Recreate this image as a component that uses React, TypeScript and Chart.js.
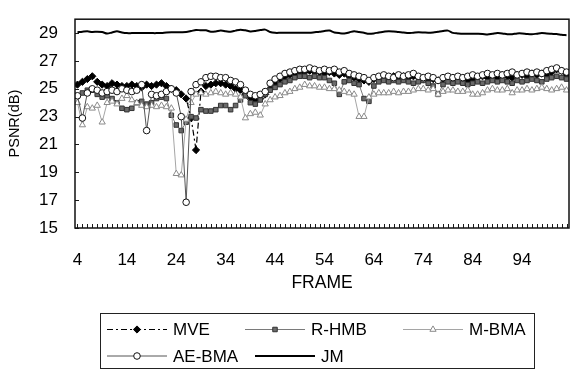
import { useEffect, useRef } from 'react';
import { Chart, registerables } from 'chart.js';
import { drawPoint } from 'chart.js/helpers';

Chart.register(...registerables);

const FRAMES = [
  4, 5, 6, 7, 8, 9, 10, 11, 12, 13, 14, 15, 16, 17, 18, 19, 20, 21, 22, 23,
  24, 25, 26, 27, 28, 29, 30, 31, 32, 33, 34, 35, 36, 37, 38, 39, 40, 41, 42, 43,
  44, 45, 46, 47, 48, 49, 50, 51, 52, 53, 54, 55, 56, 57, 58, 59, 60, 61, 62, 63,
  64, 65, 66, 67, 68, 69, 70, 71, 72, 73, 74, 75, 76, 77, 78, 79, 80, 81, 82, 83,
  84, 85, 86, 87, 88, 89, 90, 91, 92, 93, 94, 95, 96, 97, 98, 99, 100, 101, 102, 103,
];
const X_TICKS = [4, 14, 24, 34, 44, 54, 64, 74, 84, 94];
const Y_TICKS = [15, 17, 19, 21, 23, 25, 27, 29];

const MVE = [
  25.3, 25.5, 25.7, 25.9, 25.5, 25.3, 25.2, 25.4, 25.3, 25.2,
  25.2, 25.3, 25.2, 25.1, 25.3, 25.2, 25.3, 25.4, 25.2, 25.0,
  24.9, 24.6, 24.3, 22.9, 20.6, 24.8, 25.2, 25.3, 25.4, 25.4,
  25.3, 25.2, 25.0, 24.9, 24.6, 24.3, 24.2, 24.3, 24.6, 25.0,
  25.4, 25.7, 25.9, 26.0, 26.1, 26.2, 26.2, 26.3, 26.2, 26.2,
  26.1, 26.2, 26.1, 26.0, 26.1, 25.9, 25.8, 25.7, 25.6, 25.5,
  25.7, 25.8, 25.9, 25.8, 25.9, 25.8, 25.9, 25.8, 25.9, 25.8,
  25.7, 25.6, 25.7, 25.6, 25.7, 25.8, 25.8, 25.7, 25.8, 25.6,
  25.7, 25.8, 25.9, 25.8, 25.9, 25.8, 26.0, 25.9, 25.8, 26.0,
  26.0, 25.9, 26.1, 26.0, 26.1, 26.0, 26.2, 26.4, 26.3, 26.0,
];
const RHMB = [
  24.5, 24.7, 24.9, 24.9, 24.6, 24.4, 24.5, 24.3, 24.0, 23.6,
  23.5, 23.6, 24.0, 24.1, 23.9, 24.0, 24.3, 24.4, 24.3, 23.1,
  22.4, 22.0, 22.6, 23.0, 22.9, 23.5, 23.4, 23.4, 23.5, 23.8,
  23.8, 23.5, 23.8, 24.2, 24.5, 24.0, 23.9, 24.2, 24.6, 24.9,
  25.1, 25.3, 25.5, 25.6, 25.8, 25.9, 25.9, 25.8, 25.9, 25.8,
  25.8, 25.6, 25.4, 24.6, 25.5, 25.6, 25.4, 25.3, 24.3, 24.1,
  25.2, 25.5, 25.6, 25.5, 25.6, 25.5, 25.6, 25.5, 25.4, 25.5,
  25.6, 25.4, 25.2, 24.6, 25.3, 25.5, 25.4, 25.5, 25.4, 25.3,
  25.4, 25.5, 25.4, 25.5, 25.6, 25.5, 25.6, 25.5, 25.4, 25.6,
  25.5, 25.6, 25.7, 25.6, 25.5, 25.7, 25.8, 25.9, 25.8, 25.7,
];
const MBMA = [
  24.0, 22.4, 23.7, 23.6, 23.8, 22.6, 24.0, 24.1, 23.9, 24.3,
  24.5, 24.2, 24.0, 23.8, 23.7, 23.8, 23.7, 23.8, 23.7, 23.6,
  18.9, 18.8, 22.8, 24.0, 24.6, 24.7, 24.6, 24.7, 24.8, 24.7,
  24.6, 24.7, 24.6, 24.4, 22.9, 23.2, 23.3, 23.1, 23.9, 24.2,
  24.4, 24.5, 24.7, 24.8, 25.0, 25.1, 25.3, 25.2, 25.2, 25.1,
  25.1, 25.0, 25.0, 24.9, 24.8, 24.7, 24.6, 23.0, 23.0, 24.4,
  24.6, 24.7, 24.7, 24.7, 24.8, 24.7, 24.8, 24.8, 24.9, 25.0,
  25.0, 24.9, 25.0, 24.6, 24.8, 24.9, 24.9, 24.8, 24.8, 24.9,
  24.6, 24.6, 24.7, 24.9, 25.0, 24.9, 24.9, 25.0, 24.7, 24.9,
  24.9, 25.0, 24.9, 25.0, 25.1, 25.0, 24.9, 25.0, 25.1, 24.9,
];
const AEBMA = [
  24.5, 22.9, 24.7, 25.0, 24.9, 24.7, 24.8, 24.9, 24.8, 25.0,
  24.9, 24.8, 24.9, 25.3, 22.0, 24.6, 24.5, 24.6, 24.8, 25.0,
  24.7, 23.0, 16.85, 24.8, 25.3, 25.5, 25.8, 25.9, 25.9, 25.8,
  25.8, 25.6, 25.5, 25.3, 24.9, 24.6, 24.5, 24.6, 24.8, 25.4,
  25.7, 25.9, 26.1, 26.2, 26.3, 26.4, 26.4, 26.5, 26.4, 26.3,
  26.4, 26.3, 26.4, 26.2, 26.3, 26.1, 26.0, 25.9, 25.8, 25.6,
  25.8, 25.9, 26.0, 25.9, 25.8, 26.0, 25.9, 26.0, 26.1, 25.9,
  25.8, 25.9, 25.8, 25.6, 25.8, 25.9, 25.8, 25.9, 25.8, 25.9,
  26.0, 25.9, 26.0, 26.1, 26.0, 26.1, 26.0, 26.1, 26.2, 26.0,
  26.1, 26.2, 26.1, 26.2, 26.1, 26.3, 26.4, 26.5, 26.3, 26.2,
];
const JM = [
  29.06, 29.1, 29.13, 29.08, 29.1, 29.08, 28.97, 29.05, 29.13, 29.05,
  29.0, 29.0, 29.0, 29.0, 29.0, 29.0, 29.0, 29.01, 29.05, 29.07,
  29.07, 29.07, 29.08, 29.15, 29.23, 29.2, 29.2, 29.1, 29.12, 29.18,
  29.14, 29.1, 29.18, 29.25, 29.2, 29.12, 29.15, 29.22, 29.25, 29.08,
  29.02, 29.02, 29.03, 29.02, 29.02, 29.02, 29.03, 29.02, 29.06, 29.1,
  29.15, 29.18, 29.05, 29.0, 28.98, 29.05, 29.14, 29.08, 29.02, 28.95,
  28.98, 29.05, 29.1, 29.14, 29.12, 29.08, 29.05, 29.0, 29.03, 29.06,
  29.05, 29.03, 29.05, 29.1, 29.15, 29.18, 29.02, 28.98, 28.95, 28.95,
  28.95, 28.95, 28.94, 28.9, 28.95, 29.0, 28.98, 28.92, 28.92, 28.98,
  28.98, 28.94, 28.92, 28.96, 29.0, 28.97, 28.95, 28.93, 28.88, 28.85,
];

const SERIES_LABELS = ['MVE', 'R-HMB', 'M-BMA', 'AE-BMA', 'JM'];

const FONT = '"Liberation Sans", Arial, sans-serif';

// legend layout (line start x, row index)
const LEGEND_SLOTS = [
  { x: 107, row: 0 },
  { x: 245, row: 0 },
  { x: 403, row: 0 },
  { x: 107, row: 1 },
  { x: 255, row: 1 },
];

const toPoints = (vals: number[]) => FRAMES.map((f, i) => ({ x: f, y: vals[i] }));

const framePlugin = {
  id: 'frameTicks',
  afterDraw(chart: any) {
    const { ctx, chartArea, scales } = chart;
    const { left, top, right, bottom } = chartArea;
    ctx.save();
    ctx.strokeStyle = '#1a1a1a';
    ctx.lineWidth = 1;
    ctx.beginPath();
    FRAMES.forEach((f) => {
      const px = Math.round(scales.x.getPixelForValue(f)) + 0.5;
      ctx.moveTo(px, bottom);
      ctx.lineTo(px, bottom - 4);
    });
    Y_TICKS.forEach((v) => {
      const py = Math.round(scales.y.getPixelForValue(v)) + 0.5;
      ctx.moveTo(left, py);
      ctx.lineTo(left + 4, py);
    });
    ctx.stroke();
    ctx.lineWidth = 1.5;
    ctx.strokeStyle = '#111';
    ctx.strokeRect(left, top, right - left, bottom - top);
    ctx.restore();
  },
};

const legendPlugin = {
  id: 'lineLegend',
  afterDraw(chart: any) {
    const { ctx } = chart;
    const boxLeft = 100.5;
    const boxTop = 313.5;
    const boxW = 434;
    const boxH = 55;
    const rowY = [329.5, 356];
    ctx.save();
    ctx.strokeStyle = '#222';
    ctx.lineWidth = 1;
    ctx.strokeRect(boxLeft, boxTop, boxW, boxH);
    chart.data.datasets.forEach((ds: any, i: number) => {
      const slot = LEGEND_SLOTS[i];
      const y = rowY[slot.row];
      const x = slot.x;
      ctx.save();
      ctx.strokeStyle = ds.borderColor;
      ctx.lineWidth = ds.borderWidth;
      ctx.setLineDash(ds.borderDash || []);
      ctx.beginPath();
      ctx.moveTo(x, y);
      ctx.lineTo(x + 60, y);
      ctx.stroke();
      ctx.setLineDash([]);
      if (ds.pointRadius > 0) {
        ctx.fillStyle = ds.pointBackgroundColor;
        ctx.strokeStyle = ds.pointBorderColor;
        ctx.lineWidth = ds.pointBorderWidth;
        drawPoint(ctx, { pointStyle: ds.pointStyle, radius: ds.pointRadius, rotation: 0, borderWidth: ds.pointBorderWidth }, x + 30, y);
      }
      ctx.restore();
      ctx.fillStyle = '#000';
      ctx.font = `17px ${FONT}`;
      ctx.textBaseline = 'middle';
      ctx.textAlign = 'left';
      ctx.fillText(ds.label, x + 66, y + 1);
    });
    ctx.restore();
  },
};

export default function App() {
  const canvasRef = useRef<HTMLCanvasElement | null>(null);

  useEffect(() => {
    document.body.style.margin = '0';
    const canvas = canvasRef.current;
    if (!canvas) return;
    const chart = new Chart(canvas, {
      type: 'line',
      data: {
        datasets: [
          {
            label: SERIES_LABELS[0],
            data: toPoints(MVE),
            borderColor: '#000',
            borderWidth: 1.2,
            borderDash: [6, 3, 2, 3],
            pointStyle: 'rectRot',
            pointRadius: 3.6,
            pointBackgroundColor: '#000',
            pointBorderColor: '#000',
            pointBorderWidth: 1,
            tension: 0,
            order: 5,
          },
          {
            label: SERIES_LABELS[1],
            data: toPoints(RHMB),
            borderColor: '#7a7a7a',
            borderWidth: 1,
            pointStyle: 'rect',
            pointRadius: 3.2,
            pointBackgroundColor: '#6a6a6a',
            pointBorderColor: '#333',
            pointBorderWidth: 1,
            tension: 0,
            order: 4,
          },
          {
            label: SERIES_LABELS[2],
            data: toPoints(MBMA),
            borderColor: '#a5a5a5',
            borderWidth: 1,
            pointStyle: 'triangle',
            pointRadius: 3.6,
            pointBackgroundColor: '#fff',
            pointBorderColor: '#8a8a8a',
            pointBorderWidth: 1,
            tension: 0,
            order: 3,
          },
          {
            label: SERIES_LABELS[3],
            data: toPoints(AEBMA),
            borderColor: '#555',
            borderWidth: 1,
            pointStyle: 'circle',
            pointRadius: 3.3,
            pointBackgroundColor: '#fff',
            pointBorderColor: '#111',
            pointBorderWidth: 1,
            tension: 0,
            order: 2,
          },
          {
            label: SERIES_LABELS[4],
            data: toPoints(JM),
            borderColor: '#000',
            borderWidth: 2,
            pointRadius: 0,
            tension: 0.3,
            order: 1,
          },
        ],
      },
      options: {
        responsive: false,
        animation: false,
        devicePixelRatio: 1,
        layout: { padding: { top: 10, right: 3, bottom: 72, left: 0 } },
        plugins: {
          legend: { display: false },
          tooltip: { enabled: false },
        },
        scales: {
          x: {
            type: 'linear',
            min: 3.5,
            max: 103.5,
            grid: { display: false },
            border: { display: false },
            afterBuildTicks: (scale: any) => {
              scale.ticks = X_TICKS.map((v) => ({ value: v }));
            },
            afterFit: (scale: any) => {
              scale.height = 72;
            },
            ticks: {
              autoSkip: false,
              maxRotation: 0,
              padding: 14,
              color: '#000',
              font: { family: FONT, size: 17 },
              callback: (v: any) => String(v),
            },
            title: {
              display: true,
              text: 'FRAME',
              color: '#000',
              font: { family: FONT, size: 17.5 },
              padding: { top: 0, bottom: 6.5 },
            },
          },
          y: {
            type: 'linear',
            min: 15,
            max: 30,
            grid: { display: false },
            border: { display: false },
            afterBuildTicks: (scale: any) => {
              scale.ticks = Y_TICKS.map((v) => ({ value: v }));
            },
            afterFit: (scale: any) => {
              scale.width = 75;
            },
            ticks: {
              autoSkip: false,
              padding: 9,
              color: '#000',
              font: { family: FONT, size: 17 },
              callback: (v: any) => String(v),
            },
            title: {
              display: true,
              text: 'PSNR(dB)',
              color: '#000',
              font: { family: FONT, size: 14.5 },
              padding: { top: 6, bottom: 0 },
            },
          },
        },
      },
      plugins: [framePlugin, legendPlugin],
    } as any);
    return () => chart.destroy();
  }, []);

  return (
    <div style={{ width: 574, height: 372 }}>
      <canvas ref={canvasRef} width={574} height={372} style={{ display: 'block' }} />
    </div>
  );
}
